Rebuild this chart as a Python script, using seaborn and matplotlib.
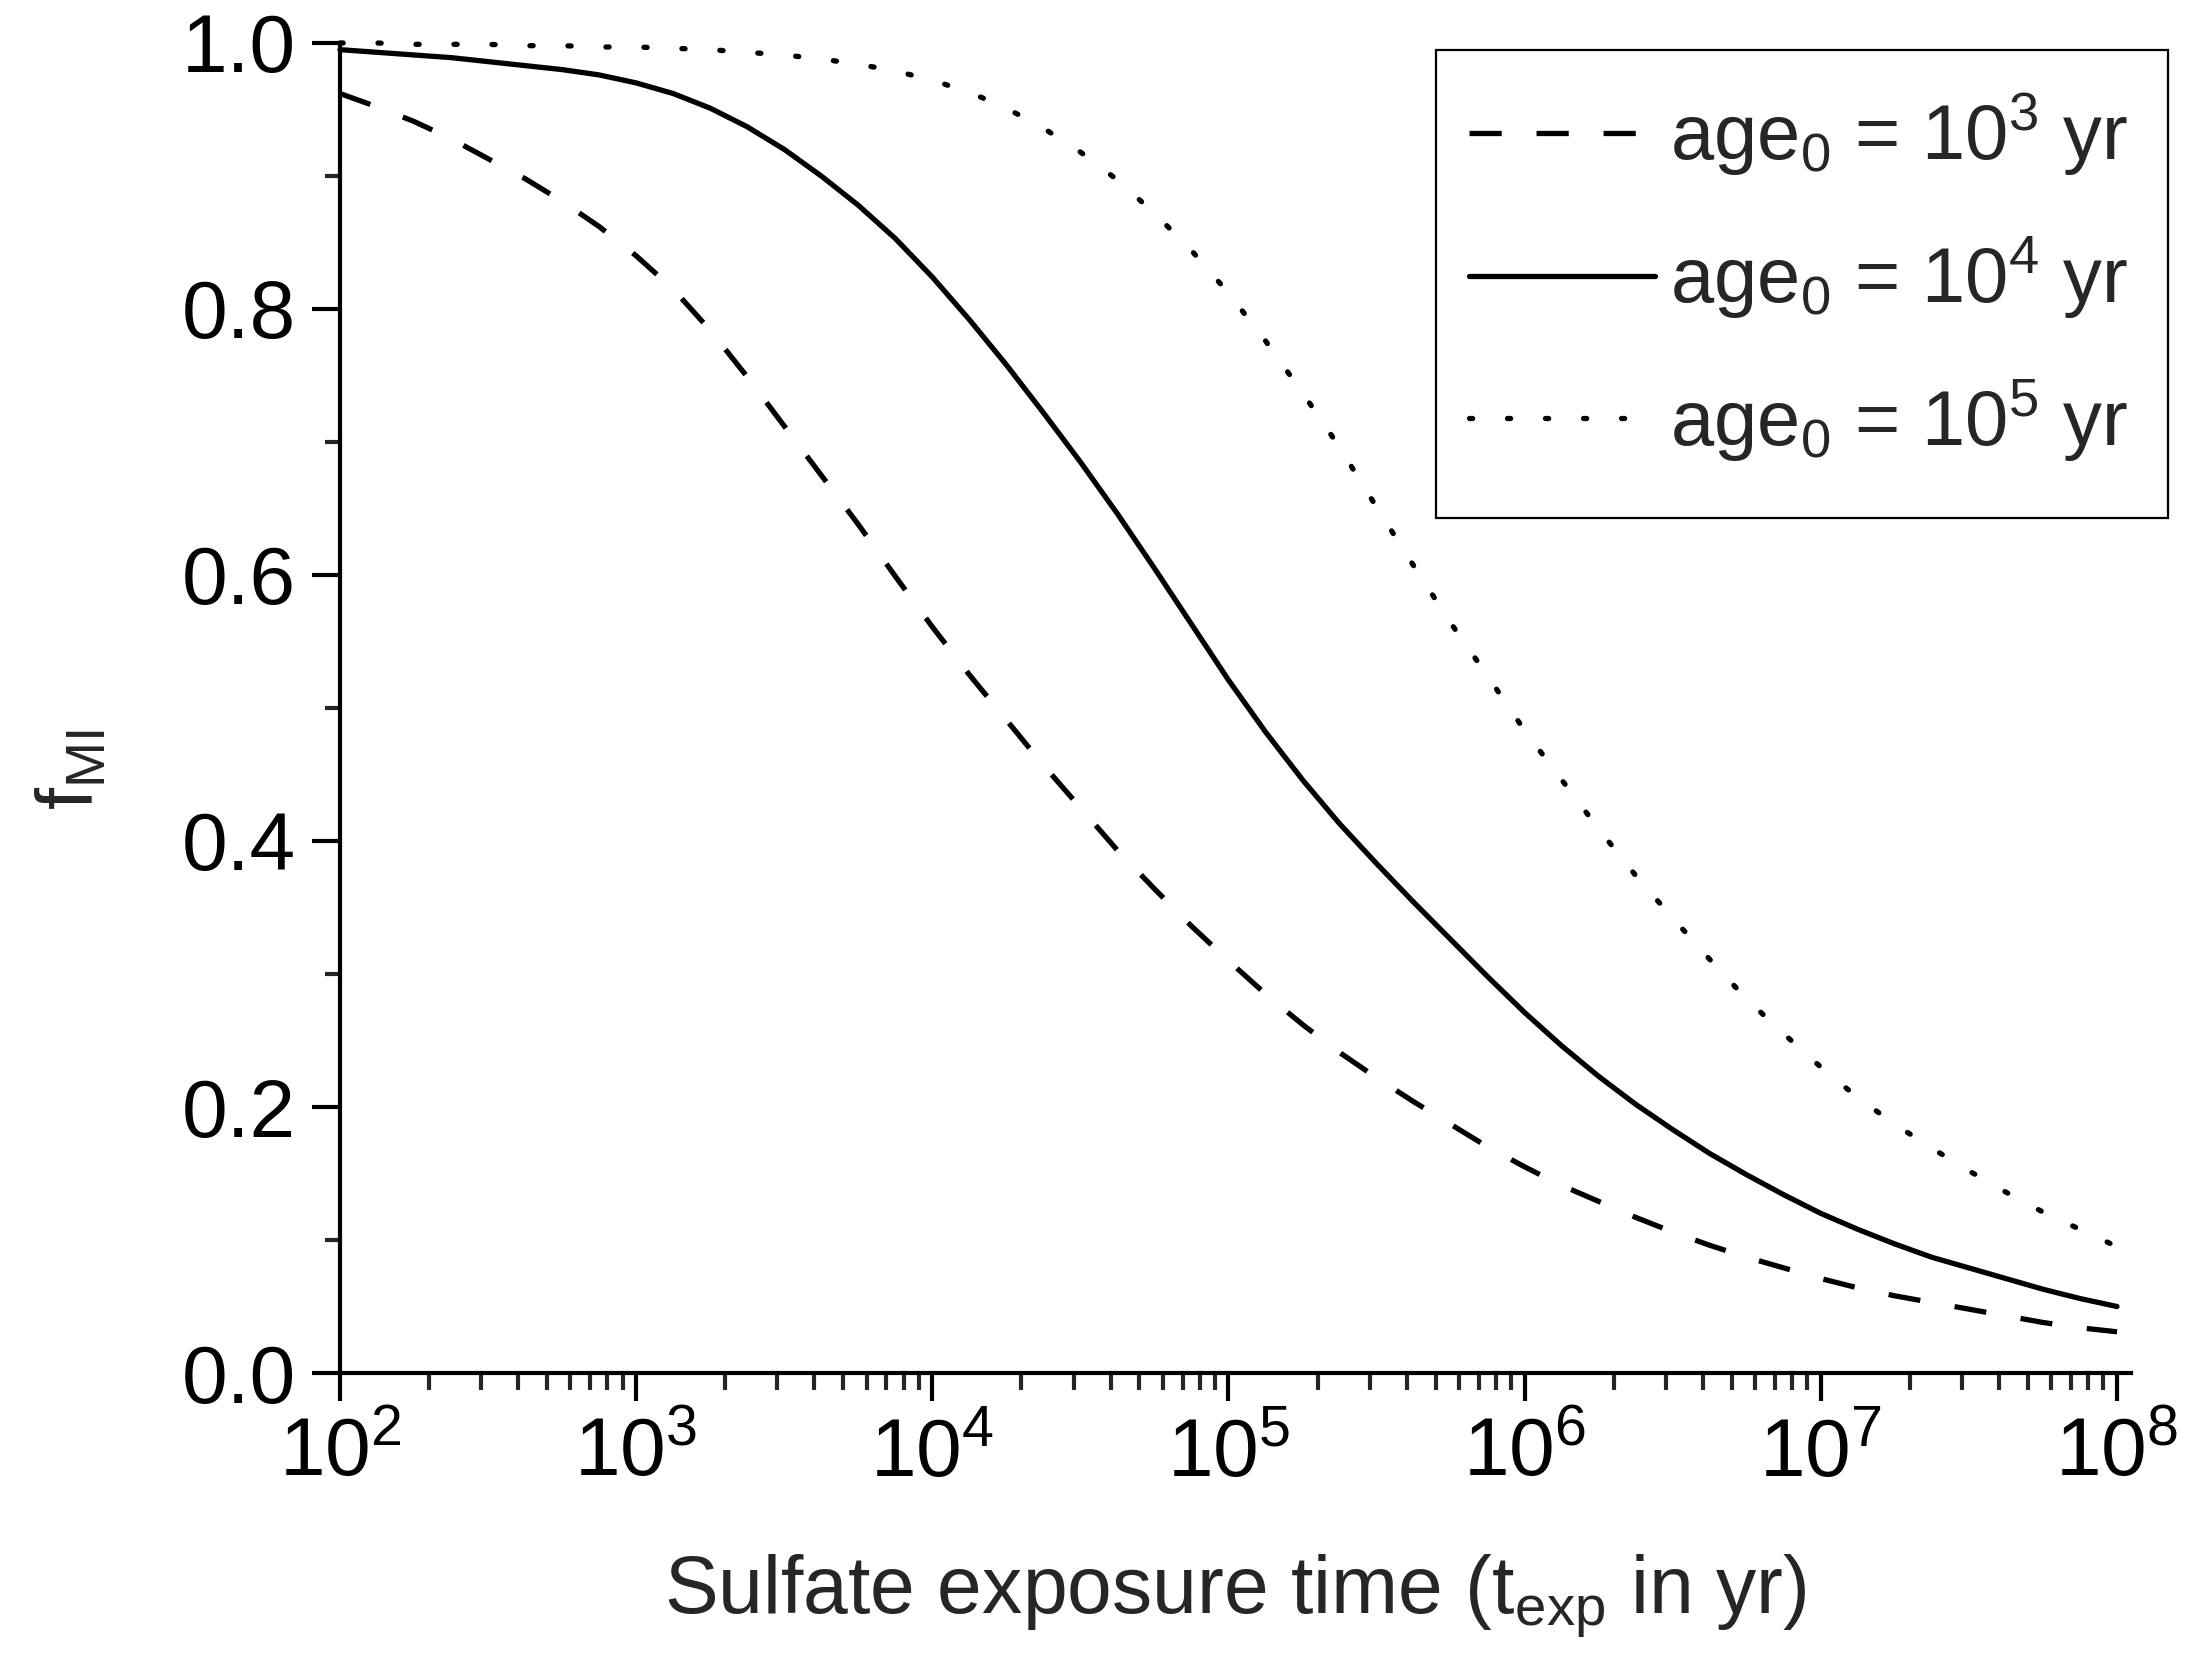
import numpy as np
import matplotlib
matplotlib.use("Agg")
import matplotlib.pyplot as plt
import matplotlib.ticker as mticker
from matplotlib.patches import Rectangle
import seaborn as sns

# exposure time grid (log10 of years)
log_t = [2.000, 2.125, 2.250, 2.375, 2.500, 2.625, 2.750, 2.875,
         3.000, 3.125, 3.250, 3.375, 3.500, 3.625, 3.750, 3.875,
         4.000, 4.125, 4.250, 4.375, 4.500, 4.625, 4.750, 4.875,
         5.000, 5.125, 5.250, 5.375, 5.500, 5.625, 5.750, 5.875,
         6.000, 6.125, 6.250, 6.375, 6.500, 6.625, 6.750, 6.875,
         7.000, 7.125, 7.250, 7.375, 7.500, 7.625, 7.750, 7.875, 8.000]

# f_MI
f_age3 = [0.962, 0.952, 0.941, 0.928, 0.913, 0.898, 0.881, 0.862,
          0.840, 0.815, 0.784, 0.749, 0.712, 0.675, 0.638, 0.599,
          0.561, 0.525, 0.491, 0.457, 0.425, 0.393, 0.364, 0.336,
          0.310, 0.285, 0.262, 0.241, 0.222, 0.204, 0.187, 0.170,
          0.155, 0.141, 0.129, 0.117, 0.106, 0.096, 0.087, 0.079,
          0.071, 0.064, 0.058, 0.053, 0.048, 0.043, 0.038, 0.034, 0.031]
f_age4 = [0.995, 0.993, 0.991, 0.989, 0.986, 0.983, 0.980, 0.976,
          0.970, 0.962, 0.951, 0.937, 0.920, 0.900, 0.878, 0.853,
          0.824, 0.792, 0.758, 0.722, 0.685, 0.646, 0.605, 0.563,
          0.521, 0.482, 0.446, 0.413, 0.383, 0.354, 0.326, 0.298,
          0.271, 0.246, 0.223, 0.202, 0.183, 0.165, 0.149, 0.134,
          0.120, 0.108, 0.097, 0.087, 0.079, 0.071, 0.063, 0.056, 0.050]
f_age5 = [1.000, 1.000, 0.999, 0.999, 0.999, 0.998, 0.998, 0.997,
          0.997, 0.996, 0.995, 0.993, 0.991, 0.988, 0.984, 0.979,
          0.972, 0.963, 0.951, 0.936, 0.918, 0.897, 0.872, 0.844,
          0.812, 0.776, 0.737, 0.696, 0.651, 0.607, 0.564, 0.524,
          0.483, 0.446, 0.409, 0.374, 0.342, 0.311, 0.281, 0.255,
          0.230, 0.207, 0.187, 0.169, 0.152, 0.136, 0.121, 0.108, 0.095]

labels = [r'age$_0$ = 10$^3$ yr', r'age$_0$ = 10$^4$ yr', r'age$_0$ = 10$^5$ yr']

t_exp = 10.0 ** np.array(log_t)

sns.set_style("ticks")
plt.rcParams['font.family'] = ['Liberation Sans', 'DejaVu Sans']
plt.rcParams['mathtext.fontset'] = 'custom'
plt.rcParams['mathtext.rm'] = 'Liberation Sans'
plt.rcParams['mathtext.it'] = 'Liberation Sans:italic'
plt.rcParams['mathtext.default'] = 'regular'

fs = 29.5
lw = 1.9
axw = 1.5
W, H = 2196, 1678

fig = plt.figure(figsize=(10.98, 8.39), dpi=200)
ax = fig.add_axes([340 / W, 1 - 1373 / H, (2131 - 340) / W, (1373 - 43) / H])

sns.lineplot(x=t_exp, y=f_age3, ax=ax, color='black', linewidth=lw,
             linestyle=(0, (6.1, 6.6)), label=labels[0], clip_on=False)
sns.lineplot(x=t_exp, y=f_age4, ax=ax, color='black', linewidth=lw,
             linestyle='-', label=labels[1], clip_on=False)
sns.lineplot(x=t_exp, y=f_age5, ax=ax, color='black', linewidth=lw,
             linestyle=(0, (0.6, 6.6)), dash_capstyle='round', label=labels[2],
             clip_on=False)

ax.set_xscale('log')
ax.set_xlim(100, 1.115e8)
ax.set_ylim(0, 1.0)

ax.xaxis.set_major_locator(mticker.LogLocator(base=10, numticks=20))
ax.xaxis.set_minor_locator(mticker.LogLocator(base=10, subs=np.arange(2, 10), numticks=100))
ax.xaxis.set_minor_formatter(mticker.NullFormatter())
ax.yaxis.set_major_locator(mticker.MultipleLocator(0.2))
ax.yaxis.set_minor_locator(mticker.MultipleLocator(0.1))
ax.yaxis.set_major_formatter(mticker.FormatStrFormatter('%.1f'))

sns.despine(ax=ax)
for s in ['left', 'bottom']:
    ax.spines[s].set_linewidth(axw)
    ax.spines[s].set_color('black')

ax.tick_params(axis='x', which='major', direction='out', length=10, width=axw, pad=6,
               labelsize=fs, colors='black')
ax.tick_params(axis='x', which='minor', direction='out', length=6, width=axw)
ax.tick_params(axis='y', which='major', direction='out', length=10, width=axw, pad=6,
               labelsize=fs, colors='black')
ax.tick_params(axis='y', which='minor', direction='out', length=5.5, width=axw)

ax.set_xlabel(r'Sulfate exposure time (t$_{exp}$ in yr)', fontsize=29)
ax.set_ylabel(r'f$_{MI}$', fontsize=28.5)
ax.xaxis.set_label_coords(0.5, -0.135)
ax.yaxis.set_label_coords(-0.128, 0.454)

# legend entries without frame, the box drawn separately
leg = ax.legend(loc='upper left', bbox_to_anchor=(1469 / W, 1 - 92 / H),
                bbox_transform=fig.transFigure, borderaxespad=0, borderpad=0,
                frameon=False, fontsize=28, handlelength=2.39, handletextpad=0.2,
                labelspacing=0.72)

box = Rectangle((1436 / W, 1 - 518 / H), (2168 - 1436) / W, (518 - 50) / H,
                transform=fig.transFigure, fill=False, edgecolor='black',
                linewidth=0.8, zorder=5)
fig.patches.append(box)

fig.savefig('out.png', dpi=200)
